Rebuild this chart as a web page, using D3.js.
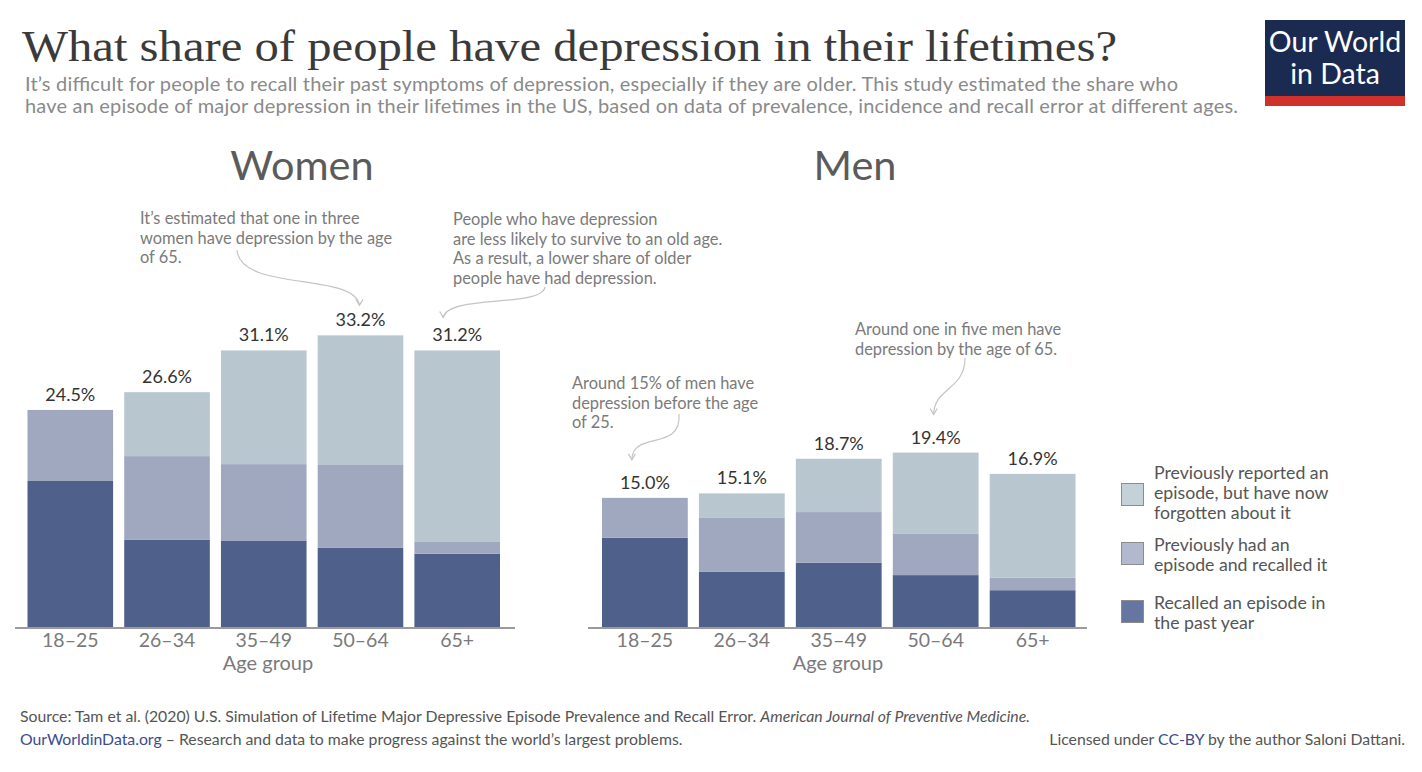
<!DOCTYPE html>
<html>
<head>
<meta charset="utf-8">
<script src="https://cdn.jsdelivr.net/npm/d3@7"></script>
<style>
  html, body { margin: 0; padding: 0; background: #fff; }
  svg { display: block; font-family: Lato, "Open Sans", sans-serif; }
</style>
</head>
<body>
<svg id="chart" width="1422" height="772"></svg>
<script>
// ---------------- DATA ----------------
const ageGroups = ["18–25", "26–34", "35–49", "50–64", "65+"];
const seriesKeys = ["pastYear", "recalled", "forgotten"];
const legendLabels = [
  ["Recalled an episode in", "the past year"],
  ["Previously had an", "episode and recalled it"],
  ["Previously reported an", "episode, but have now", "forgotten about it"]
];
// Women (% of people)
const womenPastYear  = [16.5, 9.9, 9.8, 9.0, 8.3];
const womenRecalled  = [8.0, 9.4, 8.6, 9.3, 1.4];
const womenForgotten = [0.0, 7.2, 12.8, 14.6, 21.5];
const womenLabels    = ["24.5%", "26.6%", "31.1%", "33.2%", "31.2%"];
// Men
const menPastYear  = [10.1, 6.3, 7.3, 5.9, 4.2];
const menRecalled  = [4.5, 6.1, 5.7, 4.7, 1.4];
const menForgotten = [0.0, 2.7, 6.0, 9.1, 11.7];
const menLabels    = ["15.0%", "15.1%", "18.7%", "19.4%", "16.9%"];

// ---------------- STYLE ----------------
const colors = { pastYear: "#4f608a", recalled: "#a0a8c0", forgotten: "#b8c6d0" };
const legendFill = { pastYear: "#6576a0", recalled: "#b2b8cd", forgotten: "#c5d1d9" };

const svg = d3.select("#chart");

// Title & subtitle
svg.append("text").attr("x", 22).attr("y", 61)
  .attr("font-family", "'Liberation Serif', 'DejaVu Serif', serif")
  .attr("font-size", 45).attr("fill", "#3a3a3a")
  .attr("textLength", 1095).attr("lengthAdjust", "spacingAndGlyphs")
  .text("What share of people have depression in their lifetimes?");

const subLines = [
  "It’s difficult for people to recall their past symptoms of depression, especially if they are older. This study estimated the share who",
  "have an episode of major depression in their lifetimes in the US, based on data of prevalence, incidence and recall error at different ages."
];
svg.append("g").selectAll("text").data(subLines).join("text")
  .attr("x", 25).attr("y", (d, i) => 91 + i * 22)
  .attr("font-size", 20).attr("fill", "#8a8a8a")
  .attr("textLength", (d, i) => i === 0 ? 1153 : 1213).attr("lengthAdjust", "spacing")
  .text(d => d);

// Logo
const logo = svg.append("g");
logo.append("rect").attr("x", 1265).attr("y", 20).attr("width", 140).attr("height", 86).attr("fill", "#1a2a50");
logo.append("rect").attr("x", 1265).attr("y", 96).attr("width", 140).attr("height", 10).attr("fill", "#d0312a");
logo.append("text").attr("x", 1335).attr("y", 52).attr("text-anchor", "middle").attr("fill", "#fff")
  .attr("font-size", 28.5).text("Our World");
logo.append("text").attr("x", 1335).attr("y", 84).attr("text-anchor", "middle").attr("fill", "#fff")
  .attr("font-size", 28.5).text("in Data");

// ---------------- PANELS ----------------
const y0 = 627.5, pxPerPct = 8.88;
const y = d3.scaleLinear().domain([0, 35]).range([y0, y0 - 35 * pxPerPct]);

function panel(cfg) {
  const x = d3.scaleBand().domain(ageGroups).range(cfg.range).paddingInner(0.115).paddingOuter(0);
  const rows = ageGroups.map((a, i) => ({
    age: a, pastYear: cfg.pastYear[i], recalled: cfg.recalled[i], forgotten: cfg.forgotten[i], label: cfg.labels[i]
  }));
  const stacked = d3.stack().keys(seriesKeys)(rows);
  const g = svg.append("g");

  // Panel heading
  g.append("text").attr("x", cfg.titleX).attr("y", 180).attr("text-anchor", "middle")
    .attr("font-size", 41.5).attr("fill", "#5b5b5b").text(cfg.title);

  g.selectAll("g.series").data(stacked).join("g").attr("class", "series")
    .attr("fill", d => colors[d.key])
    .selectAll("rect").data(d => d).join("rect")
    .attr("x", d => x(d.data.age)).attr("width", x.bandwidth())
    .attr("y", d => y(d[1])).attr("height", d => Math.max(0, y(d[0]) - y(d[1])));

  // totals
  g.selectAll("text.total").data(rows).join("text").attr("class", "total")
    .attr("x", d => x(d.age) + x.bandwidth() / 2)
    .attr("y", d => y(d.pastYear + d.recalled + d.forgotten) - 9)
    .attr("text-anchor", "middle").attr("font-size", 18).attr("fill", "#333")
    .text(d => d.label);

  // baseline
  g.append("line").attr("x1", cfg.axisExtent[0]).attr("x2", cfg.axisExtent[1])
    .attr("y1", y(0) + 0.5).attr("y2", y(0) + 0.5).attr("stroke", "#9a9a9a").attr("stroke-width", 2);

  // x axis tick labels
  const ax = d3.axisBottom(x).tickSize(0).tickPadding(0);
  const axg = g.append("g").attr("transform", `translate(0,${y(0) + 13})`).call(ax);
  axg.select(".domain").remove();
  axg.selectAll("text").attr("font-family", "Lato, sans-serif").attr("font-size", 19.5)
    .attr("fill", "#7a7a7a").attr("y", 0).attr("dy", "0.35em");

  g.append("text").attr("x", cfg.axisTitleX).attr("y", 670)
    .attr("text-anchor", "middle").attr("font-size", 20).attr("fill", "#7a7a7a").text("Age group");

  return { x, rows };
}

const W = panel({ title: "Women", titleX: 302, axisTitleX: 268, range: [27.5, 500], axisExtent: [15, 515],
  pastYear: womenPastYear, recalled: womenRecalled, forgotten: womenForgotten, labels: womenLabels });
const M = panel({ title: "Men", titleX: 855, axisTitleX: 838, range: [602, 1075.5], axisExtent: [588, 1087],
  pastYear: menPastYear, recalled: menRecalled, forgotten: menForgotten, labels: menLabels });

// ---------------- ANNOTATIONS ----------------
const annColor = "#7a7a7a";
function annotation(lines, tx, ty, lh) {
  svg.append("g").selectAll("text").data(lines).join("text")
    .attr("x", tx).attr("y", (d, i) => ty + i * lh)
    .attr("font-size", 16.4).attr("fill", annColor).text(d => d);
}
function arrow(sx, sy, c1x, c1y, c2x, c2y, ex, ey) {
  const p = d3.path();
  p.moveTo(sx, sy); p.bezierCurveTo(c1x, c1y, c2x, c2y, ex, ey);
  svg.append("path").attr("d", p.toString()).attr("fill", "none").attr("stroke", "#c4c4c4").attr("stroke-width", 1.2);
  const h = d3.path();
  h.moveTo(ex - 3.5, ey - 6); h.lineTo(ex, ey); h.lineTo(ex + 3.5, ey - 6);
  svg.append("path").attr("d", h.toString()).attr("fill", "none").attr("stroke", "#c4c4c4").attr("stroke-width", 1.2);
}
function tot(r) { return r.pastYear + r.recalled + r.forgotten; }

annotation(["It’s estimated that one in three", "women have depression by the age", "of 65."], 140, 224, 19.5);
{
  const r = W.rows[3];
  const ex = W.x(r.age) + W.x.bandwidth() / 2 - 1, ey = y(tot(r)) - 30;
  arrow(237, 250, 240, 292, ex - 5, 272, ex, ey);
}
annotation(["People who have depression", "are less likely to survive to an old age.",
  "As a result, a lower share of older", "people have had depression."], 453, 225, 19.5);
{
  const r = W.rows[4];
  const ex = W.x(r.age) + W.x.bandwidth() / 2 - 14, ey = y(tot(r)) - 33;
  arrow(545, 287, 542, 308, 448, 294, ex, ey);
}
annotation(["Around 15% of men have", "depression before the age", "of 25."], 572, 389, 19.5);
{
  const r = M.rows[0];
  const ex = M.x(r.age) + M.x.bandwidth() / 2 - 13, ey = y(tot(r)) - 38;
  arrow(679, 414, 682, 452, 632, 430, ex, ey);
}
annotation(["Around one in five men have", "depression by the age of 65."], 855, 335, 19.5);
{
  const r = M.rows[3];
  const ex = M.x(r.age) + M.x.bandwidth() / 2 - 2, ey = y(tot(r)) - 38;
  arrow(965, 358, 965, 390, ex, 388, ex, ey);
}

// ---------------- LEGEND ----------------
const legendItems = [
  { key: "forgotten", lines: legendLabels[2], sy: 483, ty: 479 },
  { key: "recalled", lines: legendLabels[1], sy: 542, ty: 551 },
  { key: "pastYear", lines: legendLabels[0], sy: 600, ty: 609 }
];
const lg = svg.append("g");
legendItems.forEach(it => {
  lg.append("rect").attr("x", 1121.5).attr("y", it.sy + 0.5).attr("width", 22).attr("height", 22)
    .attr("fill", legendFill[it.key]).attr("stroke", "#8c8c8c").attr("stroke-width", 1);
  lg.append("g").selectAll("text").data(it.lines).join("text")
    .attr("x", 1154).attr("y", (d, i) => it.ty + i * 20)
    .attr("font-size", 17.7).attr("fill", "#555").text(d => d);
});

// ---------------- FOOTER ----------------
const src = svg.append("text").attr("x", 20).attr("y", 722).attr("font-size", 15.8).attr("fill", "#555");
src.append("tspan").text("Source: Tam et al. (2020) U.S. Simulation of Lifetime Major Depressive Episode Prevalence and Recall Error. ");
src.append("tspan").attr("font-style", "italic").text("American Journal of Preventive Medicine.");

const f2 = svg.append("text").attr("x", 20).attr("y", 745).attr("font-size", 15.8).attr("fill", "#555");
f2.append("tspan").attr("fill", "#3b4b8f").text("OurWorldinData.org");
f2.append("tspan").text(" – Research and data to make progress against the world’s largest problems.");

const f3 = svg.append("text").attr("x", 1405).attr("y", 745).attr("text-anchor", "end").attr("font-size", 15.8).attr("fill", "#555");
f3.append("tspan").text("Licensed under ");
f3.append("tspan").attr("fill", "#3b4b8f").text("CC-BY");
f3.append("tspan").text(" by the author Saloni Dattani.");
</script>
</body>
</html>
